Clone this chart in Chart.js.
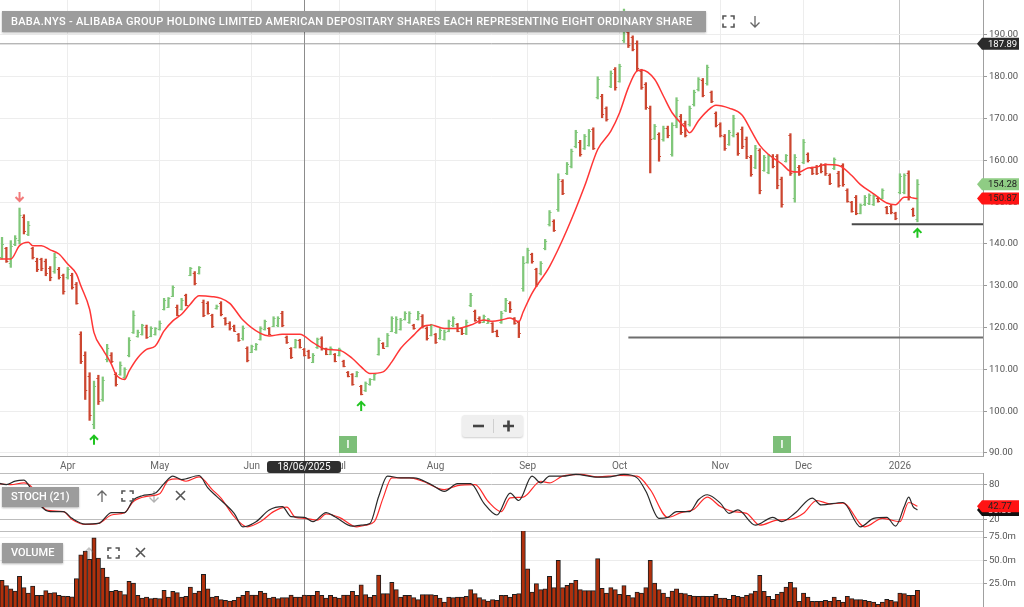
<!DOCTYPE html>
<html>
<head>
<meta charset="utf-8">
<title>BABA.NYS</title>
<script src="https://cdn.jsdelivr.net/npm/chart.js@4.4.1/dist/chart.umd.min.js"></script>
<style>
  html, body { margin: 0; padding: 0; background: #fff; }
  body { position: relative; width: 1024px; height: 607px; overflow: hidden; font-family: Roboto, "Liberation Sans", Arial, sans-serif; }
  canvas { position: absolute; left: 0; }
  #priceCanvas { top: 0; }
  #stochCanvas { top: 473px; }
  #volCanvas { top: 531px; }
  .label-box { position: absolute; left: 2px; height: 21px; line-height: 21px; background: #9c9c9c; color: #fff; font-size: 11px; font-weight: 500; padding: 0 9px; white-space: nowrap; box-shadow: 0 1px 2px rgba(0,0,0,.3); }
  .icon { position: absolute; }
  #dateTag { position: absolute; left: 267px; top: 461px; width: 74px; height: 12px; line-height: 12px; background: #2e2e2e; color: #fff; font-size: 10px; text-align: center; border-radius: 3px; }
  #zoomCtl { position: absolute; left: 462px; top: 415px; width: 61px; height: 22px; background: #efefef; border-radius: 3px; box-shadow: 0 1px 2px rgba(0,0,0,.2); }
</style>
</head>
<body>
<canvas id="priceCanvas" width="1024" height="478"></canvas>
<canvas id="stochCanvas" width="1024" height="59"></canvas>
<canvas id="volCanvas" width="1024" height="76"></canvas>

<div class="label-box" style="top:11px; width:686px; letter-spacing:0.3px;">BABA.NYS - ALIBABA GROUP HOLDING LIMITED AMERICAN DEPOSITARY SHARES EACH REPRESENTING EIGHT ORDINARY SHARE</div>
<svg class="icon" style="left:722px; top:15px" width="13" height="13" viewBox="0 0 13 13"><path d="M1 4.5V1h3.5M8.5 1H12v3.5M12 8.5V12H8.5M4.5 12H1V8.5" fill="none" stroke="#555" stroke-width="1.6"/></svg>
<svg class="icon" style="left:749px; top:15px" width="12" height="13" viewBox="0 0 12 13"><path d="M6 1v11M1.5 7.5L6 12l4.5-4.5" fill="none" stroke="#666" stroke-width="1.3"/></svg>

<div class="label-box" style="top:487px; height:20px; line-height:20px;">STOCH (21)</div>
<svg class="icon" style="left:96px; top:490px" width="12" height="13" viewBox="0 0 12 13"><path d="M6 12V1M1.5 5.5L6 1l4.5 4.5" fill="none" stroke="#666" stroke-width="1.3"/></svg>
<svg class="icon" style="left:121px; top:490px" width="13" height="12" viewBox="0 0 13 12"><path d="M1 4V1h3.5M8.5 1H12v3M12 8v3H8.5M4.5 11H1V8" fill="none" stroke="#555" stroke-width="1.6"/></svg>
<svg class="icon" style="left:148px; top:490px; opacity:.5" width="12" height="13" viewBox="0 0 12 13"><path d="M6 1v11M1.5 7.5L6 12l4.5-4.5" fill="none" stroke="#666" stroke-width="1.3"/></svg>
<svg class="icon" style="left:175px; top:490px" width="11" height="11" viewBox="0 0 11 11"><path d="M1 1l9 9M10 1l-9 9" stroke="#555" stroke-width="1.6"/></svg>

<div class="label-box" style="top:543px; height:20px; line-height:20px;">VOLUME</div>
<svg class="icon" style="left:83px; top:547px; opacity:.4" width="12" height="13" viewBox="0 0 12 13"><path d="M6 12V1M1.5 5.5L6 1l4.5 4.5" fill="none" stroke="#666" stroke-width="1.3"/></svg>
<svg class="icon" style="left:107px; top:547px" width="13" height="12" viewBox="0 0 13 12"><path d="M1 4V1h3.5M8.5 1H12v3M12 8v3H8.5M4.5 11H1V8" fill="none" stroke="#555" stroke-width="1.6"/></svg>
<svg class="icon" style="left:135px; top:547px" width="11" height="11" viewBox="0 0 11 11"><path d="M1 1l9 9M10 1l-9 9" stroke="#555" stroke-width="1.6"/></svg>

<div id="zoomCtl">
  <svg width="61" height="22" viewBox="0 0 61 22"><path d="M11 11h11" stroke="#444" stroke-width="2.6"/><path d="M31.5 4v14" stroke="#cfcfcf" stroke-width="1"/><path d="M41 11h11M46.5 5.5v11" stroke="#444" stroke-width="2.6"/></svg>
</div>
<div id="dateTag">18/06/2025</div>

<script>
// trading days from 10 Mar 2025 (index 0) to 8 Jan 2026 (index 210)
const monthStarts = [16, 37, 58, 78, 100, 121, 142, 165, 184, 206];
const monthNames = ['Apr', 'May', 'Jun', 'Jul', 'Aug', 'Sep', 'Oct', 'Nov', 'Dec', '2026'];
const priceTicks = [90, 100, 110, 120, 130, 140, 150, 160, 170, 180, 190];
const stochTicks = [0, 20, 80, 100];
const volTicks = [25, 50, 75];
const crossIdx = 70;

const opens = [
  140, 137, 139, 135.5, 140, 141, 146.5, 142.5, 139, 136,
  136.4, 136, 134.2, 133.5, 134, 132.5, 132, 132.5, 130.5, 118.5,
  113.5, 108.5, 97, 108, 103, 112.5, 113.5, 109, 109, 108.2,
  113.5, 119, 118, 118.5, 120.2, 118, 118.5, 119.6, 124.5, 125,
  127.6, 125, 124.5, 127.8, 132.6, 133, 133, 126.2, 126, 123,
  124.6, 126, 122.2, 121.2, 120.4, 118.4, 117.4, 115, 114.2, 114.8,
  117.3, 119.6, 119.8, 120.4, 120.5, 123.5, 117.8, 115, 115.4, 117,
  114.8, 114.4, 111.8, 115.3, 117.5, 115, 113.8, 113.6, 113.4, 112,
  109.3, 108.8, 108.4, 106, 105, 106.4, 107.6, 113.8, 116.2, 115.7,
  119.3, 119, 119.7, 122, 121.3, 120.6, 122, 122.8, 120, 118.3,
  118.4, 117.5, 117.3, 119.3, 120.5, 120.8, 119.8, 118.6, 125.4, 124,
  122.4, 121.4, 121.2, 121, 119.2, 121.3, 124.2, 126, 122.2, 121.3,
  129.5, 135.8, 137.5, 134, 133, 139, 144.8, 145.5, 148.4, 155,
  157, 158.6, 163.5, 164.5, 163, 163.8, 167.4, 175.2, 175.4, 172.5,
  177.8, 181.8, 179, 188.8, 190.6, 189.4, 188.2, 181.4, 178.2, 172.5,
  165.4, 166.2, 165, 167.8, 161.6, 168.4, 170.6, 169, 168.6, 173.4,
  177, 179.2, 178.5, 176.3, 171.3, 168.7, 165.8, 164, 166, 166.2,
  167.6, 165.2, 160.8, 158.5, 162.4, 157.8, 157.2, 161, 161, 155.6,
  159.8, 166, 151, 158.5, 159.7, 161.5, 158.2, 158.5, 159, 159,
  156.5, 158.2, 157, 158.8, 153, 150, 151.2, 147.5, 149.5, 149.7,
  149.5, 151, 151, 148.8, 149.2, 147.4, 152.4, 152.5, 157, 148.4,
  146
];
const highs = [
  141, 141.6, 139.2, 140.8, 142, 148.6, 147, 145.4, 139.2, 136.6,
  136.6, 136.4, 134.6, 137.8, 134.4, 132.8, 134.4, 133, 130.8, 119,
  114.2, 109.2, 107.2, 108.6, 108.2, 116, 114, 109.2, 111.8, 110.4,
  117.6, 124, 119.4, 120.8, 120.6, 120.2, 120, 121.6, 127, 127.2,
  130, 125.4, 127, 128, 134.4, 133.4, 134.6, 126.6, 126.2, 123.2,
  125.4, 126.2, 122.4, 121.4, 120.6, 118.6, 120.4, 115.4, 115.8, 116.2,
  120.2, 121.8, 120, 122.6, 122.6, 123.9, 118, 115.2, 117.2, 117.2,
  115, 114.6, 113.8, 117.5, 117.8, 115.1, 115.4, 113.8, 115.1, 112.2,
  109.5, 109, 109.5, 106.2, 107, 107.8, 109, 117.5, 116.4, 118.6,
  122.6, 122.6, 122.2, 123.8, 123.8, 120.8, 123.9, 123.1, 120.2, 120.8,
  118.6, 119.8, 119.4, 121.8, 122.6, 121, 120, 121.8, 128.2, 124.2,
  122.6, 123, 122.2, 121.2, 119.4, 123.9, 127, 126.2, 122.4, 121.6,
  137, 139, 137.8, 134.2, 135.8, 141.1, 148, 145.8, 156.8, 155.4,
  159.5, 162.7, 167.2, 164.8, 166.2, 167.4, 167.8, 180, 175.8, 172.8,
  181.4, 182.2, 183, 196.2, 191, 189.8, 188.6, 181.8, 178.6, 173,
  168.6, 166.6, 168.2, 168.2, 169, 175, 171, 169.4, 173, 176.8,
  179.8, 179.6, 182.8, 176.6, 171.6, 169, 166.2, 167.2, 170.8, 166.6,
  168, 165.6, 161.2, 163.6, 162.8, 161.2, 161.4, 161.4, 161.4, 156,
  161.4, 166.4, 161.4, 158.8, 165, 161.8, 158.4, 158.8, 159.2, 159.2,
  156.8, 160.6, 157.4, 159.2, 153.2, 150.2, 151.6, 149.6, 151.6, 152,
  151.8, 151.2, 153.2, 149, 149.4, 147.6, 156.8, 156.8, 157.5, 148.6,
  155.4
];
const lows = [
  136.5, 136.4, 135.6, 134.4, 139.6, 140, 142.4, 142, 136.4, 133.4,
  133.6, 132.4, 131.2, 133, 131.6, 128, 131.6, 129.2, 125.6, 111.4,
  102.8, 97.8, 95.8, 101.6, 102.4, 111.8, 111.6, 106, 108.6, 107.8,
  113, 118.6, 117.7, 118.2, 117.4, 117.8, 118.2, 119.4, 124.2, 124.8,
  127.4, 122.8, 124.2, 125.2, 132.4, 130.2, 132.8, 122.6, 123.2, 120,
  124.4, 122.8, 120.6, 119.4, 119.1, 116.7, 117, 111.8, 114, 114.6,
  117, 119.4, 118.3, 120.2, 120.2, 120.2, 116.2, 112.6, 115.1, 115.1,
  113.2, 112.6, 111.6, 115, 114.6, 113.5, 113.5, 111.8, 113.2, 110.6,
  108.2, 106.2, 108.2, 103.9, 104.7, 106.2, 107.4, 113.4, 115, 115.4,
  119, 118.6, 119.4, 121.8, 121, 119.6, 121.8, 119.9, 117, 118,
  116.2, 117.2, 117, 119, 120.2, 119, 118.3, 118.3, 125, 121.5,
  121, 121.2, 121, 118.8, 117.8, 121, 123.8, 123.6, 120.8, 117.6,
  128.7, 135.4, 135.4, 129.8, 132.6, 138.6, 144.3, 143, 147.8, 151.8,
  156.6, 158.2, 163, 161, 162.6, 163.4, 162.6, 174.7, 170.2, 169.4,
  177.4, 176.8, 178.7, 188.2, 187, 186.2, 181.4, 177, 172.2, 157,
  165, 159.8, 164.6, 165.4, 161, 167.8, 166.2, 165.6, 168.2, 173,
  176.6, 175.2, 178, 173.8, 168, 165.6, 162.4, 163.6, 165.6, 161.2,
  162.8, 160.4, 156.2, 158, 152, 157.4, 156.8, 158.2, 153.2, 148.8,
  159.6, 156.4, 150, 156.4, 159.2, 159.6, 156.6, 156.6, 157, 156.4,
  154.2, 157.8, 153.6, 153.8, 150, 147.6, 147, 147.2, 149.2, 149.4,
  149.2, 150, 150.8, 147.2, 147.2, 145.8, 152, 152, 150.5, 146.6,
  145.3
];
const closes = [
  137, 140, 136, 139.5, 141.5, 147, 143, 144.5, 137, 134,
  134.2, 133, 132, 137, 132, 128.8, 134, 129.6, 126, 112,
  105, 99, 106, 102.5, 107.5, 115, 112, 106.5, 111, 110,
  117, 123, 119, 120.5, 117.8, 120, 119.8, 121.2, 126.5, 127,
  129.6, 123, 126.5, 125.5, 134.2, 130.6, 134.4, 123, 123.5, 120.4,
  125.2, 123.2, 121, 119.8, 119.3, 117, 120, 112.3, 115.5, 116,
  119.8, 121.5, 118.5, 122.2, 122.3, 120.5, 116.5, 113, 117, 115.4,
  113.5, 113, 113.5, 117.2, 115, 113.8, 115.2, 112, 114.8, 110.8,
  108.4, 106.5, 109.3, 104.2, 106.8, 107.6, 108.8, 117, 115.2, 118.2,
  122.2, 122, 121.8, 123.5, 123.4, 119.8, 123.6, 120.3, 117.4, 120.5,
  116.6, 119.5, 119, 121.5, 122.3, 119.3, 118.6, 121.4, 127.8, 121.8,
  121.3, 122.8, 122, 119.2, 118, 123.5, 126.6, 124.4, 121, 118.8,
  135.5, 138.6, 136, 130.5, 135.4, 140.8, 147.6, 143.4, 155.5, 152.2,
  159.2, 162.3, 166.8, 161.5, 165.8, 167, 163, 179.5, 171, 170,
  181, 177.5, 182.6, 192, 187.5, 186.6, 182, 177.5, 172.8, 165,
  168.2, 161, 167.8, 166, 168.5, 174.5, 166.8, 166, 172.5, 176.4,
  179.4, 175.7, 182.3, 174.2, 168.5, 166, 163, 166.8, 170.2, 161.8,
  163.4, 161, 156.8, 163, 153, 160.8, 161, 158.6, 154, 149.5,
  161.2, 157, 160.8, 156.8, 164.5, 160, 157, 157, 157.5, 157,
  154.6, 160.3, 154, 154.3, 150.4, 148, 147.5, 149.3, 151.3, 151.7,
  151.5, 150.2, 153, 147.5, 147.6, 146.2, 156.3, 156.4, 151.5, 147,
  154.28
];

// moving average, read at a subset of trading days
const maIdx = [0, 3, 5, 7, 8, 10, 12, 14, 16, 18, 19, 21, 22, 24, 26, 27, 29, 30, 32, 34,
  36, 38, 40, 42, 44, 46, 49, 51, 53, 56, 60, 62, 65, 69, 72, 75, 78, 81, 83, 85,
  88, 90, 92, 95, 97, 99, 102, 105, 108, 111, 113, 115, 117, 119, 120, 122, 126, 130, 134, 137,
  140, 142, 144, 146, 147, 150, 152, 154, 157, 158, 160, 162, 164, 167, 170, 172, 174, 176, 179, 181,
  183, 185, 187, 189, 192, 195, 197, 200, 203, 205, 207, 208, 209, 210];
const maVal = [136.4, 136.4, 139.6, 140.4, 139.6, 139.6, 138.6, 137.6, 135.2, 132.8, 130, 124.4, 118.8, 114.8, 111.2, 108.8, 107.6, 109.6, 112.8, 114.8,
  115.6, 119.2, 121.6, 123.2, 125.6, 127.6, 127.4, 127, 125.8, 121.8, 118.6, 118, 118.4, 118.4, 116.4, 114.8, 114.6, 112.6, 110.6, 109,
  109.4, 111.8, 115, 118.2, 120.2, 120.6, 119.8, 119.8, 120.6, 121.8, 121.5, 121.8, 122.3, 121.4, 123.8, 128.2, 134.6, 143.4, 153.8, 162.6,
  167, 171.4, 177.4, 181.4, 181.6, 179.4, 175.4, 171.4, 167.8, 166.6, 169.5, 171.8, 173.2, 172.5, 170.8, 167.2, 163.6, 161.4, 159.2, 157.4,
  157.2, 158.2, 158.4, 159, 158.8, 156.4, 154.2, 152, 149.8, 149.4, 151.2, 151.2, 151, 150.87];

// stochastic %K (black) and %D (red)
const kIdx = [0, 2, 4, 6, 7, 10, 12, 15, 17, 20, 23, 26, 29, 31, 33, 36, 38, 40, 42, 46,
  48, 50, 54, 56, 59, 62, 65, 67, 70, 72, 75, 77, 81, 83, 85, 87, 89, 92, 95, 99,
  102, 105, 108, 111, 114, 117, 119, 122, 124, 126, 129, 132, 136, 139, 143, 146, 148, 151, 153, 155,
  158, 160, 162, 165, 167, 169, 173, 177, 179, 182, 186, 188, 193, 197, 200, 203, 205, 207, 208, 209, 210];
const kVal = [83, 80, 86, 87.6, 80, 42, 33.4, 33.4, 21.8, 11.9, 13, 31.7, 31.7, 53.8, 60.8, 65.4, 81.7, 94.6, 88.7, 95.7,
  74.2, 59.6, 30.5, 7.2, 16, 36.3, 42.1, 24.7, 23.5, 16, 31.7, 24.7, 8.4, 10.1, 13, 59.6, 94.6, 91.6, 91.6, 80,
  68.4, 81.7, 81.7, 48, 27.6, 65.4, 52.6, 94.6, 83, 94.6, 94.6, 97.5, 93.4, 92.8, 97.5, 91.6, 68.4, 21.8, 23.5, 33.4,
  33.4, 53.8, 62.5, 48, 30.5, 36.3, 10.1, 23.5, 16, 30.5, 56.7, 45, 49.1, 7.2, 21.8, 23.5, 8.4, 42.1, 58.5, 42.1, 36.3];
const dIdx = [0, 3, 6, 8, 11, 15, 17, 20, 23, 26, 29, 31, 34, 37, 39, 41, 43, 46, 49, 51,
  54, 57, 60, 63, 66, 68, 70, 73, 75, 78, 82, 84, 86, 88, 90, 94, 97, 102, 105, 109,
  112, 115, 117, 120, 124, 126, 129, 133, 137, 142, 146, 149, 153, 156, 159, 162, 165, 168, 171, 174,
  178, 181, 184, 187, 190, 193, 198, 202, 206, 208, 210];
const dVal = [81.7, 80, 83, 74, 36.3, 33.4, 20, 11.3, 13, 27.6, 31.7, 50.9, 59.6, 64.3, 87.6, 89.9, 85.8, 93.4, 71.3, 56.7,
  24.7, 7.2, 16, 33.4, 41, 23.5, 21.8, 18.8, 29.3, 23.5, 7.2, 10.1, 16, 56.7, 91.6, 91.6, 85.8, 71.3, 78.3, 80,
  50.9, 33.4, 57, 58.5, 85.8, 83, 94.6, 97.5, 93.4, 95.7, 94.6, 71.3, 23.5, 31.7, 37.5, 58.5, 42.1, 33.4, 30.5, 10.1,
  18.8, 20, 30.5, 52.6, 46.8, 48, 7.2, 21.8, 16, 49.1, 42.77];

// volume in millions, one per trading day
const volumes = [
  25, 28.6, 23, 19.6, 17, 33, 20.7, 15, 22.5, 12.5,
  12.5, 17.5, 15, 15.4, 12.5, 11.8, 11.4, 11, 30.4, 56,
  60, 51, 74.3, 52.5, 41.8, 32, 16.8, 17.9, 17, 13.2,
  27.5, 25.7, 12.5, 9.6, 10.7, 8.9, 9.6, 8.9, 17.9, 10.7,
  16.8, 15.4, 10.7, 11.4, 21.4, 15, 17, 35, 19.6, 10.7,
  11.4, 7.9, 7.1, 6.4, 7.1, 10.7, 12.5, 16.8, 12.9, 12.9,
  16.8, 15, 9.6, 10.7, 8.9, 10, 10, 12.9, 10.7, 10.7,
  12.9, 12.5, 12.5, 16.8, 12.5, 9.6, 12.5, 10.7, 9.6, 12.9,
  12.9, 16.8, 12.5, 23.9, 13.2, 10.7, 12.5, 34.3, 14.3, 14.3,
  26.4, 18.6, 10.7, 12.5, 12.5, 10, 7.9, 13.2, 13.2, 13.2,
  12.5, 9.6, 5.4, 10.7, 10, 10.7, 10.7, 11.4, 18.6, 14.3,
  10, 7.9, 6.4, 7.9, 7.1, 12.5, 12.5, 10.7, 13.6, 14.3,
  82, 41, 16, 25, 18.6, 19.6, 32.9, 20.7, 50, 20.7,
  23.2, 25.7, 28.6, 18.6, 17.5, 17.5, 17.5, 51.8, 20, 15,
  20.7, 18.6, 13.6, 22.9, 12.5, 10, 16, 15, 20.7, 50,
  25.7, 18.6, 15, 10.7, 17, 19.6, 15, 14.3, 12.5, 11.8,
  11.4, 11.8, 11.4, 11.4, 13.6, 9.6, 9.6, 8.2, 12.5, 11.4,
  10.7, 12.5, 14.3, 17, 33.9, 16.8, 11.4, 8.2, 13.6, 16,
  21.4, 26.4, 20.7, 6.1, 15, 10.7, 6.1, 6.1, 6.1, 7.1,
  6.1, 10.7, 7.1, 5.4, 11.4, 8.9, 7.9, 7.9, 7.1, 6.1,
  5.4, 2.9, 5.4, 8.2, 7.1, 5.7, 15, 14.3, 12.5, 12.5,
  17.9
];

// drawn horizontal lines: price and first trading day they start on
const levelLines = [
  { value: 187.89, from: 0 },
  { value: 144.7, from: 195 },
  { value: 117.6, from: 144 }
];
const buySignals = [22, 83, 210];
const sellSignals = [5];
const eventMarks = [80, 179];

const X_MIN = 0.54, X_MAX = 224.97;
const GREEN = '#80c77a', RED = '#cc4630';
const barColors = closes.map((c, i) => c >= opens[i] ? GREEN : RED);

Chart.defaults.font.family = 'Roboto, "Liberation Sans", Arial, sans-serif';
Chart.defaults.animation = false;

// right-hand value axis with a fixed width and no label padding at the ends
function fitRight(s) {
  s.width = 41;
  s.paddingTop = 0;
  s.paddingBottom = 0;
}

function xScale(showLabels) {
  return {
    type: 'linear', min: X_MIN, max: X_MAX, offset: false,
    display: showLabels,
    afterBuildTicks: s => { s.ticks = monthStarts.map(v => ({ value: v })); },
    afterFit: s => { s.height = 22; s.paddingLeft = 0; s.paddingRight = 0; },
    ticks: { autoSkip: false, maxRotation: 0, padding: 4, color: '#666', font: { size: 10 },
      callback: (v, i) => monthNames[i] },
    grid: { offset: false, drawTicks: false,
      color: c => (c.tick && c.tick.value === 206) ? '#c6c6c6' : '#ededed' },
    border: { color: '#a8a8a8' }
  };
}

function drawTag(ctx, y, fill, color, text) {
  const x0 = 977, x1 = 1019, h = 12;
  ctx.save();
  ctx.fillStyle = fill;
  ctx.beginPath();
  ctx.moveTo(x0, y);
  ctx.lineTo(x0 + 5, y - h / 2);
  ctx.lineTo(x1, y - h / 2);
  ctx.lineTo(x1, y + h / 2);
  ctx.lineTo(x0 + 5, y + h / 2);
  ctx.closePath();
  ctx.fill();
  ctx.fillStyle = color;
  ctx.font = '9.5px Roboto, "Liberation Sans", Arial';
  ctx.textAlign = 'left';
  ctx.textBaseline = 'middle';
  ctx.fillText(text, 988, y + 0.5);
  ctx.restore();
}

function drawArrow(ctx, x, tipY, up, color) {
  const d = up ? 1 : -1;
  ctx.save();
  ctx.strokeStyle = color;
  ctx.lineWidth = 2;
  ctx.beginPath();
  ctx.moveTo(x, tipY); ctx.lineTo(x, tipY + d * 9);
  ctx.moveTo(x - 4, tipY + d * 4); ctx.lineTo(x, tipY); ctx.lineTo(x + 4, tipY + d * 4);
  ctx.stroke();
  ctx.restore();
}

const crossPlugin = {
  id: 'cross',
  beforeDatasetsDraw(chart) {
    const x = Math.round(chart.scales.x.getPixelForValue(crossIdx)) + 0.5;
    const ctx = chart.ctx;
    ctx.save();
    ctx.strokeStyle = '#8c8c8c';
    ctx.lineWidth = 1;
    ctx.beginPath(); ctx.moveTo(x, 0); ctx.lineTo(x, chart.height); ctx.stroke();
    ctx.restore();
  }
};

const priceExtras = {
  id: 'priceExtras',
  afterDatasetsDraw(chart) {
    const ctx = chart.ctx, xs = chart.scales.x, ys = chart.scales.y, area = chart.chartArea;
    // open / close ticks
    ctx.save();
    ctx.lineWidth = 1;
    closes.forEach((c, i) => {
      const x = xs.getPixelForValue(i);
      ctx.strokeStyle = barColors[i];
      ctx.beginPath();
      ctx.moveTo(x - 2, Math.round(ys.getPixelForValue(opens[i])) + 0.5);
      ctx.lineTo(x, Math.round(ys.getPixelForValue(opens[i])) + 0.5);
      ctx.moveTo(x, Math.round(ys.getPixelForValue(c)) + 0.5);
      ctx.lineTo(x + 2, Math.round(ys.getPixelForValue(c)) + 0.5);
      ctx.stroke();
    });
    ctx.restore();
    buySignals.forEach(i => drawArrow(ctx, xs.getPixelForValue(i), ys.getPixelForValue(lows[i]) + 7, true, '#1fc41f'));
    sellSignals.forEach(i => drawArrow(ctx, xs.getPixelForValue(i), ys.getPixelForValue(highs[i]) - 7, false, '#f27a7a'));
    eventMarks.forEach(i => {
      const x = xs.getPixelForValue(i);
      ctx.save();
      ctx.fillStyle = '#7dbf79';
      ctx.fillRect(Math.round(x) - 9, area.bottom - 20, 18, 17);
      ctx.fillStyle = '#fff';
      ctx.font = 'bold 10px Roboto, Arial';
      ctx.textAlign = 'center';
      ctx.textBaseline = 'middle';
      ctx.fillText('I', Math.round(x), area.bottom - 11);
      ctx.restore();
    });
  },
  afterDraw(chart) {
    const ys = chart.scales.y, ctx = chart.ctx;
    drawTag(ctx, ys.getPixelForValue(levelLines[0].value), '#2b2b2b', '#fff', levelLines[0].value.toFixed(2));
    drawTag(ctx, ys.getPixelForValue(closes[closes.length - 1]), '#8fcc84', '#222', closes[closes.length - 1].toFixed(2));
    drawTag(ctx, ys.getPixelForValue(maVal[maVal.length - 1]), '#ff1414', '#222', maVal[maVal.length - 1].toFixed(2));
  }
};

const levelDatasets = levelLines.map((l, n) => ({
  type: 'line',
  data: [{ x: l.from, y: l.value }, { x: X_MAX + 1, y: l.value }],
  borderColor: n === 0 ? '#9a9a9a' : (n === 1 ? '#4a4a4a' : '#6e6e6e'),
  borderWidth: n === 0 ? 1 : 2,
  pointRadius: 0,
  order: 3
}));

new Chart(document.getElementById('priceCanvas'), {
  type: 'bar',
  data: {
    datasets: [
      {
        type: 'bar',
        data: highs.map((h, i) => ({ x: i, y: [lows[i], h] })),
        backgroundColor: barColors,
        borderWidth: 0,
        barThickness: 1.6,
        order: 2
      },
      {
        type: 'line',
        data: maIdx.map((x, i) => ({ x: x, y: maVal[i] })),
        borderColor: '#ff3636',
        borderWidth: 1.5,
        pointRadius: 0,
        cubicInterpolationMode: 'monotone',
        order: 1
      },
      ...levelDatasets
    ]
  },
  options: {
    responsive: false,
    events: [],
    layout: { padding: 0 },
    plugins: { legend: { display: false }, tooltip: { enabled: false } },
    scales: {
      x: xScale(true),
      y: {
        position: 'right', min: 89.28, max: 198.37,
        afterBuildTicks: s => { s.ticks = priceTicks.map(v => ({ value: v })); },
        afterFit: fitRight,
        ticks: { color: '#555', padding: 2, font: { size: 9.5 }, callback: v => v.toFixed(2) },
        grid: { color: '#ededed', tickLength: 4, tickColor: '#9a9a9a' },
        border: { color: '#a0a0a0' }
      }
    }
  },
  plugins: [crossPlugin, priceExtras]
});

new Chart(document.getElementById('stochCanvas'), {
  type: 'line',
  data: {
    datasets: [
      { data: kIdx.map((x, i) => ({ x: x, y: kVal[i] })), borderColor: '#2a2a2a', borderWidth: 1.2,
        pointRadius: 0, cubicInterpolationMode: 'monotone' },
      { data: dIdx.map((x, i) => ({ x: x, y: dVal[i] })), borderColor: '#ff2a2a', borderWidth: 1.2,
        pointRadius: 0, cubicInterpolationMode: 'monotone' }
    ]
  },
  options: {
    responsive: false,
    events: [],
    layout: { padding: { bottom: 1 } },
    plugins: { legend: { display: false }, tooltip: { enabled: false } },
    scales: {
      x: { type: 'linear', min: X_MIN, max: X_MAX, display: false },
      y: {
        position: 'right', min: 0, max: 100,
        afterBuildTicks: s => { s.ticks = stochTicks.map(v => ({ value: v })); },
        afterFit: fitRight,
        ticks: { color: '#555', padding: 2, font: { size: 9.5 }, callback: v => (v === 20 || v === 80) ? String(v) : '' },
        grid: { color: '#bdbdbd', tickLength: 4, tickColor: c => (c.tick && (c.tick.value === 20 || c.tick.value === 80)) ? '#9a9a9a' : 'rgba(0,0,0,0)' },
        border: { color: '#a0a0a0' }
      }
    }
  },
  plugins: [crossPlugin, {
    id: 'stochTags',
    afterDraw(chart) {
      const ys = chart.scales.y, ctx = chart.ctx;
      const k = kVal[kVal.length - 1], d = dVal[dVal.length - 1];
      drawTag(ctx, ys.getPixelForValue(k), '#111', '#fff', k.toFixed(2));
      drawTag(ctx, ys.getPixelForValue(d), '#ff1414', '#222', d.toFixed(2));
    }
  }]
});

new Chart(document.getElementById('volCanvas'), {
  type: 'bar',
  data: {
    datasets: [{
      data: volumes.map((v, i) => ({ x: i, y: v })),
      backgroundColor: '#b1300c',
      borderColor: '#1e1e1e',
      borderWidth: 1,
      barThickness: 4.3
    }]
  },
  options: {
    responsive: false,
    events: [],
    layout: { padding: 0 },
    plugins: { legend: { display: false }, tooltip: { enabled: false } },
    scales: {
      x: { type: 'linear', min: X_MIN, max: X_MAX, offset: false, display: false, grid: { offset: false } },
      y: {
        position: 'right', min: 0, max: 81.5,
        afterBuildTicks: s => { s.ticks = volTicks.map(v => ({ value: v })); },
        afterFit: fitRight,
        ticks: { color: '#555', padding: 2, font: { size: 9.5 }, callback: v => v.toFixed(1) + 'm' },
        grid: { color: '#ececec', tickLength: 4, tickColor: '#9a9a9a' },
        border: { color: '#a0a0a0' }
      }
    }
  },
  plugins: [crossPlugin]
});
</script>
</body>
</html>
